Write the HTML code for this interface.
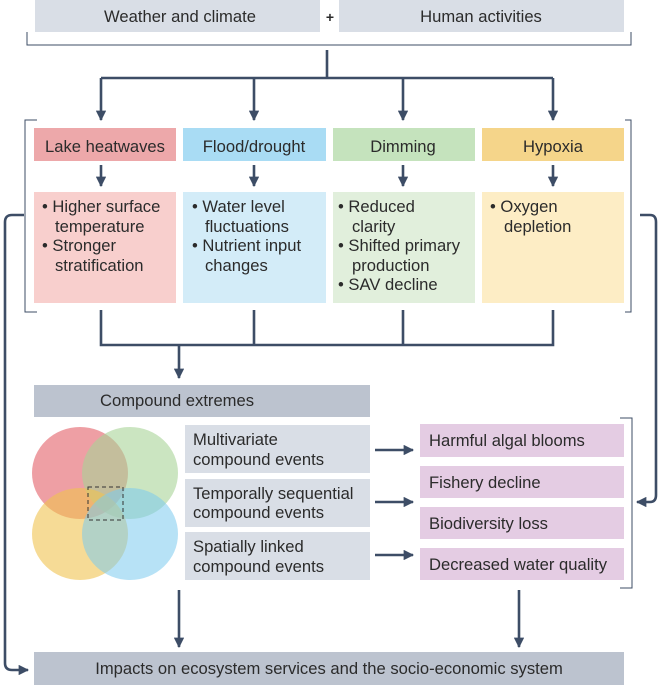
<!DOCTYPE html>
<html><head><meta charset="utf-8"><style>
html,body{margin:0;padding:0;background:#fff;}
svg{display:block;}
text{font-family:"Liberation Sans",sans-serif;font-size:16.6px;fill:#2b2b2b;}
</style></head><body>
<svg width="662" height="685" viewBox="0 0 662 685">
<defs>
<marker id="a" viewBox="0 0 10 10" refX="9" refY="5" markerWidth="4" markerHeight="4" orient="auto"><path d="M0,0 L10,5 L0,10 z" fill="#3d4d66"/></marker>
</defs>
<g fill="none" stroke="#3d4d66" stroke-width="1">
<path d="M27,32 V45 H631 V32"/>
<path d="M37,120 H25 V312 H37"/>
<path d="M625,120 H631 V312 H625"/>
<path d="M620,418 H632 V588 H620"/>
</g>
<g fill="none" stroke="#3d4d66" stroke-width="2.6">
<path d="M327,50 V78 M101,78 H553"/>
<path d="M101,78 V120" marker-end="url(#a)"/>
<path d="M254,78 V120" marker-end="url(#a)"/>
<path d="M403,78 V120" marker-end="url(#a)"/>
<path d="M553,78 V120" marker-end="url(#a)"/>
<path d="M101,165 V186" marker-end="url(#a)"/>
<path d="M254,165 V186" marker-end="url(#a)"/>
<path d="M403,165 V186" marker-end="url(#a)"/>
<path d="M553,165 V186" marker-end="url(#a)"/>
<path d="M101,310 V345 H553 V310 M254,310 V345 M403,310 V345"/>
<path d="M179,345 V378" marker-end="url(#a)"/>
<path d="M375,450 H413" marker-end="url(#a)"/>
<path d="M375,502 H413" marker-end="url(#a)"/>
<path d="M375,555 H413" marker-end="url(#a)"/>
<path d="M179,590 V647" marker-end="url(#a)"/>
<path d="M519,590 V647" marker-end="url(#a)"/>
<path d="M24,215 H12 Q5,215 5,222 V663 Q5,670 12,670 H28" marker-end="url(#a)"/>
<path d="M640,215 H650 Q656,215 656,222 V495 Q656,502 650,502 H637" marker-end="url(#a)"/>
</g>
<rect x="35" y="0" width="285" height="32" fill="#d9dee6"/>
<rect x="339" y="0" width="285" height="32" fill="#d9dee6"/>
<text x="180" y="22" text-anchor="middle">Weather and climate</text>
<text x="481" y="22" text-anchor="middle">Human activities</text>
<text x="330" y="22" text-anchor="middle" style="font-weight:bold;font-size:14px">+</text>
<rect x="34" y="128" width="142" height="33" fill="#eda8aa"/>
<rect x="183" y="128" width="143" height="33" fill="#a9dcf4"/>
<rect x="333" y="128" width="142" height="33" fill="#c5e3bd"/>
<rect x="482" y="128" width="142" height="33" fill="#f5d58a"/>
<text x="105" y="152" text-anchor="middle">Lake heatwaves</text>
<text x="254" y="152" text-anchor="middle">Flood/drought</text>
<text x="403" y="152" text-anchor="middle">Dimming</text>
<text x="553" y="152" text-anchor="middle">Hypoxia</text>
<rect x="34" y="192" width="142" height="111" fill="#f8cfcd"/>
<rect x="183" y="192" width="143" height="111" fill="#d3ecf8"/>
<rect x="333" y="192" width="142" height="111" fill="#e1efdc"/>
<rect x="482" y="192" width="142" height="111" fill="#fdedc5"/>
<g>
<text x="42" y="212">• Higher surface</text><text x="55" y="232">temperature</text>
<text x="42" y="251">• Stronger</text><text x="55" y="271">stratification</text>
<text x="192" y="212">• Water level</text><text x="205" y="232">fluctuations</text>
<text x="192" y="251">• Nutrient input</text><text x="205" y="271">changes</text>
<text x="338" y="212">• Reduced</text><text x="352" y="232">clarity</text>
<text x="338" y="251">• Shifted primary</text><text x="352" y="271">production</text>
<text x="338" y="290">• SAV decline</text>
<text x="490" y="212">• Oxygen</text><text x="504" y="232">depletion</text>
</g>
<rect x="34" y="385" width="336" height="32" fill="#bcc3cf"/>
<text x="100" y="406">Compound extremes</text>
<ellipse cx="80" cy="473" rx="48" ry="46" fill="#e35f68" opacity="0.6"/>
<ellipse cx="130" cy="473" rx="48" ry="46" fill="#a8d498" opacity="0.6"/>
<ellipse cx="80" cy="534" rx="48" ry="46" fill="#f0c350" opacity="0.6"/>
<ellipse cx="130" cy="534" rx="48" ry="46" fill="#7ccbef" opacity="0.55"/>
<rect x="88" y="487" width="35" height="33" fill="none" stroke="#333" stroke-width="1" stroke-dasharray="4,3"/>
<rect x="185" y="425" width="185" height="48" fill="#d9dee6"/>
<rect x="185" y="479" width="185" height="48" fill="#d9dee6"/>
<rect x="185" y="532" width="185" height="48" fill="#d9dee6"/>
<text x="193" y="445">Multivariate</text><text x="193" y="465">compound events</text>
<text x="193" y="499">Temporally sequential</text><text x="193" y="518">compound events</text>
<text x="193" y="552">Spatially linked</text><text x="193" y="572">compound events</text>
<rect x="420" y="424" width="204" height="33" fill="#e4cce3"/>
<rect x="420" y="466" width="204" height="32" fill="#e4cce3"/>
<rect x="420" y="507" width="204" height="32" fill="#e4cce3"/>
<rect x="420" y="548" width="204" height="32" fill="#e4cce3"/>
<text x="429" y="446">Harmful algal blooms</text>
<text x="429" y="488">Fishery decline</text>
<text x="429" y="529">Biodiversity loss</text>
<text x="429" y="570">Decreased water quality</text>
<rect x="34" y="652" width="590" height="33" fill="#bcc3cf"/>
<text x="329" y="674" text-anchor="middle">Impacts on ecosystem services and the socio-economic system</text>
</svg>
</body></html>
